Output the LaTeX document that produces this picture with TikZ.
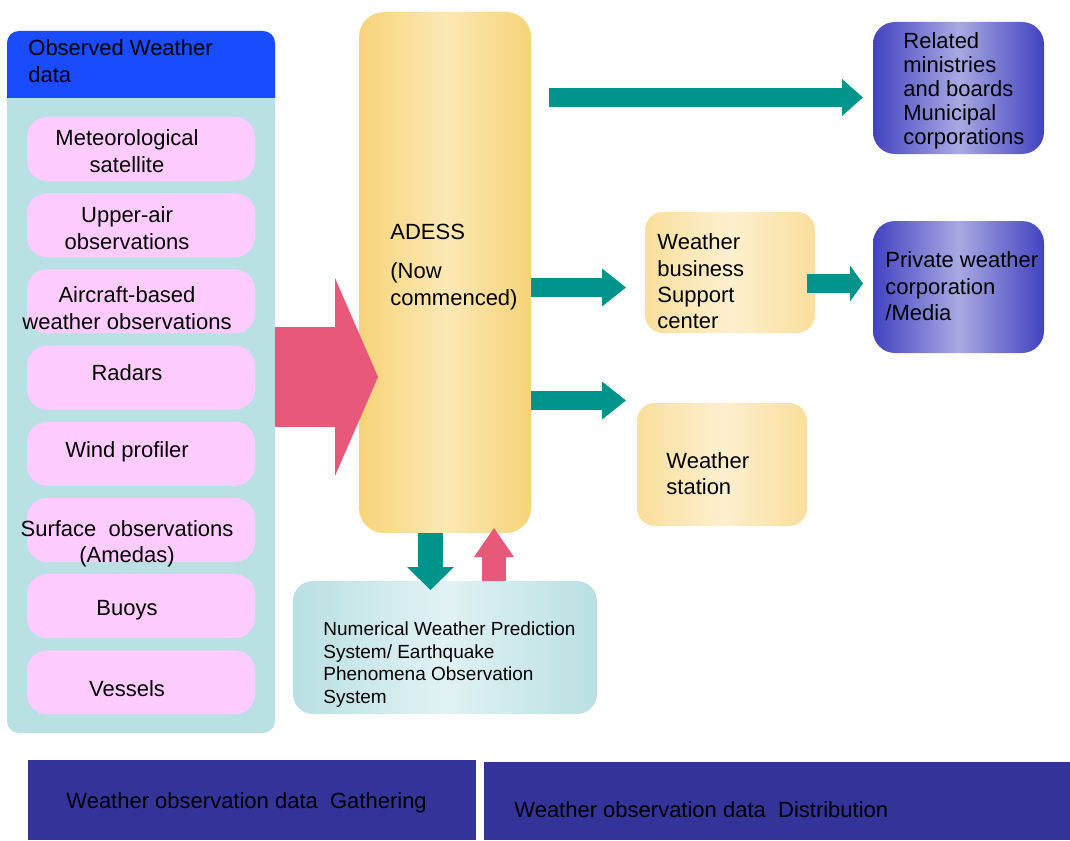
\documentclass[tikz,border=0pt]{standalone}
\usepackage{fontspec}
\setmainfont{Liberation Sans}
\usetikzlibrary{arrows.meta}

\definecolor{panelteal}{RGB}{185,224,227}
\definecolor{headblue}{RGB}{26,76,255}
\definecolor{boxpink}{RGB}{255,204,255}
\definecolor{arrowpink}{RGB}{232,88,122}
\definecolor{arrowteal}{RGB}{0,148,140}
\definecolor{goldedge}{RGB}{247,212,122}
\definecolor{goldmid}{RGB}{251,232,180}
\definecolor{creamedge}{RGB}{249,223,156}
\definecolor{creammid}{RGB}{253,240,207}
\definecolor{violetedge}{RGB}{66,66,192}
\definecolor{violetmid}{RGB}{169,169,227}
\definecolor{tealmid}{RGB}{225,242,244}
\definecolor{barblue}{RGB}{51,51,153}

\begin{document}
\begin{tikzpicture}[x=0.5pt, y=-0.5pt,
	txt/.style={font=\fontsize{11}{13.2}\selectfont, inner sep=0pt, align=left},
	blank/.style={inner sep=0pt, draw=none},
	srcbox/.style={blank, fill=boxpink, rounded corners=10pt, minimum width=114pt, minimum height=32pt},
	goldbox/.style={blank, rounded corners=9pt, left color=creamedge, right color=creamedge, middle color=creammid, minimum width=85pt},
	violetbox/.style={blank, rounded corners=11pt, left color=violetedge, right color=violetedge, middle color=violetmid, minimum width=85.5pt, minimum height=66pt},
	barbox/.style={blank, fill=barblue},
	fatarrow/.style args={#1/#2/#3/#4}{draw=#1, line width=#2, -{Triangle[length=#3, width=#4, line width=0pt]}}]
	\useasboundingbox (0,0) rectangle (1070,840);

	% gathering side
	\node[blank, fill=panelteal, rounded corners=6pt, minimum width=134pt, minimum height=351pt] (panel) at (141,382) {};
	\fill[headblue] (7,98) [rounded corners=6pt] -- (7,31) -- (275,31) [sharp corners] -- (275,98) -- cycle;
	\node[txt, anchor=west] (headtext) at (28,61) {Observed Weather\\data};
	\foreach \i/\ty/\lab in {0/151/{Meteorological\\satellite}, 1/228/{Upper-air\\observations}, 2/308/{Aircraft-based\\weather observations}, 3/373/{Radars}, 4/452/{Wind profiler}, 5/544/{Surface~ observations\\(Amedas)}, 6/610/{Buoys}, 7/689/{Vessels}} {
		\node[srcbox] (src\i) at (141,149+76.2*\i) {};
		\node[txt, align=center] (srctext\i) at (127,\ty) {\lab};
	}

	% ADESS and the distribution side
	\node[blank, rounded corners=12.5pt, left color=goldedge, right color=goldedge, middle color=goldmid, minimum width=86pt, minimum height=260.5pt] (adess) at (445,272.5) {};
	\node[txt, anchor=west] (adesstext) at (390,267) {ADESS\\[6.5pt](Now\\[0.5pt]commenced)};
	\node[goldbox, minimum height=60.5pt] (wbs) at (730,272.5) {};
	\node[txt, anchor=west] (wbstext) at (657,281.5) {Weather\\business\\Support\\center};
	\node[goldbox, minimum height=61.5pt] (station) at (722,464.5) {};
	\node[txt, anchor=west] (stationtext) at (666,473.5) {Weather\\station};
	\node[violetbox] (related) at (958.5,88) {};
	\node[txt, font=\fontsize{11}{12}\selectfont, anchor=west] (relatedtext) at (903,91) {Related\\ministries\\and boards\\Municipal\\corporations};
	\node[violetbox] (private) at (958.5,287) {};
	\node[txt, anchor=west] (privatetext) at (885,286.5) {Private weather\\corporation\\/Media};
	\node[blank, rounded corners=10pt, left color=panelteal, right color=panelteal, middle color=tealmid, minimum width=152pt, minimum height=66.5pt] (nwp) at (445,647.5) {};
	\node[txt, font=\fontsize{9.5}{11.4}\selectfont, anchor=west] (nwptext) at (323,664.5) {Numerical Weather Prediction\\System/ Earthquake\\Phenomena Observation\\System};

	% block arrows
	\coordinate (tipb) at (378,377);
	\coordinate (tip1) at (863,97.5);
	\coordinate (tip2) at (626,287.5);
	\coordinate (tip3) at (626,400.5);
	\coordinate (tip4) at (863,283.5);
	\coordinate (tipd) at (430.5,590);
	\coordinate (tipu) at (494,528);
	\draw[fatarrow=arrowpink/50pt/21.5pt/99pt] (panel.east |- tipb) -- (tipb);
	\draw[fatarrow=arrowteal/9.5pt/10.5pt/18.5pt, shorten <=9pt] (adess.east |- tip1) -- (tip1);
	\draw[fatarrow=arrowteal/9.75pt/12pt/19pt] (adess.east |- tip2) -- (tip2);
	\draw[fatarrow=arrowteal/9.75pt/12pt/19pt] (adess.east |- tip3) -- (tip3);
	\draw[fatarrow=arrowteal/9.5pt/6.5pt/18pt, shorten <=-4pt] (wbs.east |- tip4) -- (tip4);
	\draw[fatarrow=arrowteal/12.5pt/11.5pt/23.5pt] (adess.south -| tipd) -- (tipd);
	\draw[fatarrow=arrowpink/12pt/14.5pt/20pt] (nwp.north -| tipu) -- (tipu);

	% bottom bars
	\node[barbox, minimum width=224pt, minimum height=40pt] (gather) at (252,800) {};
	\node[txt, anchor=west] (gathertext) at (66,803) {Weather observation data~ Gathering};
	\node[barbox, minimum width=293pt, minimum height=39pt] (distrib) at (777,801) {};
	\node[txt, anchor=west] (distribtext) at (514,810) {Weather observation data~ Distribution};
\end{tikzpicture}
\end{document}
